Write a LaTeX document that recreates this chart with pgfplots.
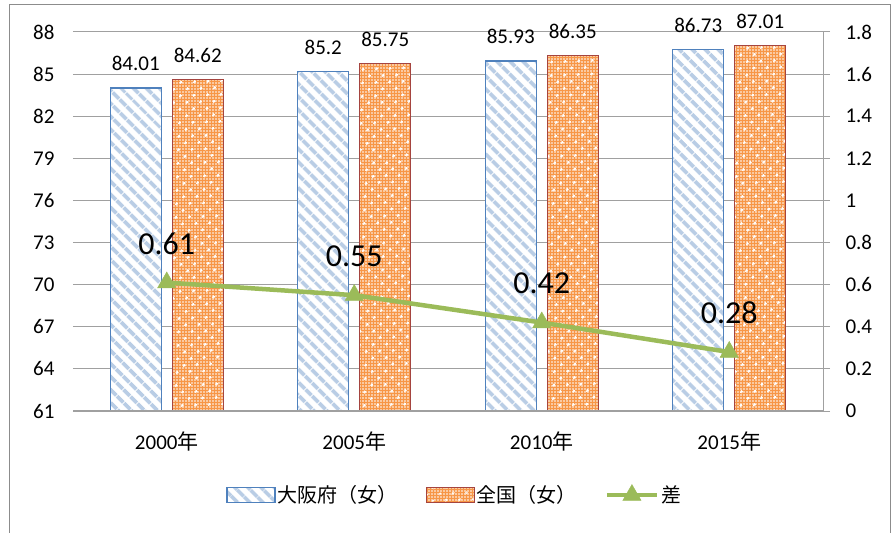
\documentclass[border=0pt]{standalone}
\usepackage{fontspec}
\setmainfont{Carlito}
\newfontfamily\jp{Noto Sans CJK JP}
\usepackage{pgfplots}
\pgfplotsset{compat=1.18}
\usetikzlibrary{patterns.meta}

\definecolor{osakablue}{HTML}{4F81BD}
\definecolor{hatchblue}{HTML}{B9CDE5}
\definecolor{natred}{HTML}{A5443F}
\definecolor{natorange}{HTML}{F79646}
\definecolor{diffgreen}{HTML}{9BBB59}
\definecolor{gridgray}{HTML}{A0A0A0}
\definecolor{framegray}{HTML}{8C8C8C}

\tikzset{
  osakabar/.style={draw=osakablue, line width=1.2bp, preaction={fill=white},
    pattern={Lines[angle=-45,distance=9.5bp,line width=4bp]}, pattern color=hatchblue},
  natbar/.style={draw=natred, line width=1.2bp, preaction={fill=natorange},
    preaction={pattern={Dots[distance=3bp,radius=0.8bp]}, pattern color=white},
    pattern={Dots[angle=45,distance=10bp,radius=1.6bp]}, pattern color=white},
}
\pgfplotsset{
  difflegend/.style={legend image code/.code={%
    \draw[##1, mark repeat=2, mark phase=2] plot coordinates {(0bp,0bp) (25bp,0bp) (50bp,0bp)};}},
}

\begin{document}
\begin{tikzpicture}
\path[use as bounding box] (-73bp,-122bp) rectangle (821bp,411bp);
\draw[framegray, line width=1bp] (-63bp,-130bp) rectangle (817bp,406bp);

\begin{axis}[
  scale only axis, width=750bp, height=379bp,
  xmin=-0.5, xmax=3.5, ymin=61, ymax=88,
  ytick={61,64,67,70,73,76,79,82,85,88},
  xtick={0,1,2,3},
  xticklabels={2000{\jp 年},2005{\jp 年},2010{\jp 年},2015{\jp 年}},
  axis x line*=bottom, axis y line*=left,
  y axis line style={draw=none},
  x axis line style={draw=gridgray, line width=1bp},
  major tick length=0pt,
  ymajorgrids, grid style={gridgray, line width=1bp},
  /pgf/number format/assume math mode=true,
  tick label style={font=\fontsize{21bp}{25bp}\selectfont, black},
  yticklabel style={xshift=-15bp},
  xticklabel style={yshift=-17bp},
  ybar, bar width=51bp,
]
\addplot[osakabar, bar shift=-31bp, nodes near coords,
  every node near coord/.append style={font=\fontsize{21bp}{25bp}\selectfont, black, yshift=13bp}]
  coordinates {(0,84.01) (1,85.2) (2,85.93) (3,86.73)};
\addplot[natbar, bar shift=31bp, nodes near coords,
  every node near coord/.append style={font=\fontsize{21bp}{25bp}\selectfont, black, yshift=13bp}]
  coordinates {(0,84.62) (1,85.75) (2,86.35) (3,87.01)};
\end{axis}

\begin{axis}[
  scale only axis, width=750bp, height=379bp,
  xmin=-0.5, xmax=3.5, ymin=0, ymax=1.8,
  ytick={0,0.2,0.4,0.6,0.8,1,1.2,1.4,1.6,1.8},
  yticklabels={0,0.2,0.4,0.6,0.8,1,1.2,1.4,1.6,1.8},
  axis y line*=right, axis x line*=bottom,
  xtick=\empty,
  y axis line style={draw=gridgray, line width=1bp},
  x axis line style={draw=gridgray, line width=1.3bp},
  ytick style={draw=gridgray, line width=1bp},
  tick align=outside, major tick length=7bp,
  /pgf/number format/assume math mode=true,
  tick label style={font=\fontsize{21bp}{25bp}\selectfont, black},
  yticklabel style={xshift=12bp},
  legend style={at={(0.509,-0.222)}, anchor=center, legend columns=3,
    draw=none, fill=none, font=\fontsize{20bp}{24bp}\selectfont\jp,
    /tikz/every even column/.append style={column sep=26bp}},
  clip=false,
]
\addlegendimage{legend image code/.code={\draw[osakabar] (0bp,-7.5bp) rectangle (48bp,7.5bp);}}
\addlegendentry{大阪府（女）}
\addlegendimage{legend image code/.code={\draw[natbar] (0bp,-7.5bp) rectangle (48bp,7.5bp);}}
\addlegendentry{全国（女）}
\addplot[diffgreen, line width=4.5bp, mark=triangle*, mark size=10.5bp,
  mark options={fill=diffgreen, draw=diffgreen, line width=0.5bp},
  nodes near coords,
  every node near coord/.append style={font=\fontsize{32bp}{37bp}\selectfont, black, anchor=center, yshift=39bp},
  difflegend]
  coordinates {(0,0.61) (1,0.55) (2,0.42) (3,0.28)};
\addlegendentry{差}
\end{axis}
\end{tikzpicture}
\end{document}
